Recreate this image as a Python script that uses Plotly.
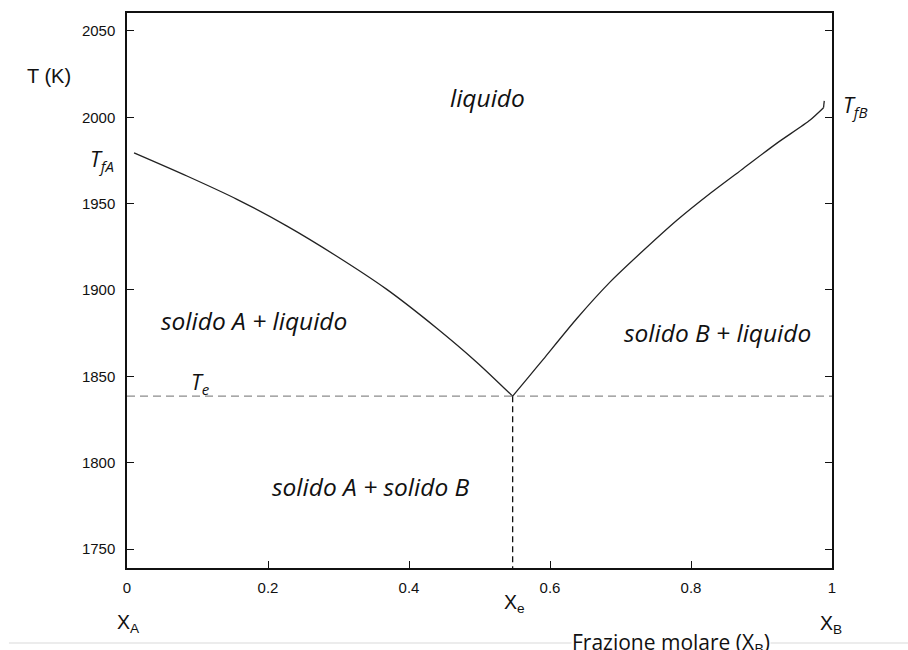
import plotly.graph_objects as go

# Liquidus of A (left branch)
xA = [0.010, 0.085, 0.156, 0.227, 0.297, 0.368, 0.439, 0.496, 0.547]
TA = [1979.4, 1966.0, 1952.5, 1937.0, 1919.7, 1900.5, 1878.0, 1858.2, 1838.5]
# Liquidus of B (right branch)
xB = [0.547, 0.5695, 0.5907, 0.6381, 0.6854, 0.7327, 0.780, 0.827, 0.8742, 0.9215, 0.969, 0.988]
TB = [1838.5, 1849.5, 1860.0, 1883.5, 1904.7, 1923.0, 1940.4, 1955.9, 1970.4, 1984.9, 1998.4, 2005.5]
# small end hook at T_fB
x_hook = [0.988, 0.989]
T_hook = [2005.5, 2009.5]

x_e = 0.547
T_e = 1838.5
T_min, T_max = 1739.0, 2060.4

x_ticks = [0, 0.2, 0.4, 0.6, 0.8, 1]
x_ticklabels = ["0", "0.2", "0.4", "0.6", "0.8", "1"]
y_ticks = [1750, 1800, 1850, 1900, 1950, 2000, 2050]

W, H = 908, 650
L, R, T, B = 127, 76.3, 13, 82
pw, ph = W - L - R, H - T - B


def px(xp):
    return (xp - L) / pw


def py(yp):
    return (H - B - yp) / ph


curve = dict(color="#222222", width=1.3)
fig = go.Figure()
fig.add_trace(go.Scatter(x=xA, y=TA, mode="lines", line=dict(curve, shape="spline", smoothing=0.8),
                         showlegend=False))
fig.add_trace(go.Scatter(x=xB, y=TB, mode="lines", line=dict(curve, shape="spline", smoothing=0.7),
                         showlegend=False))
fig.add_trace(go.Scatter(x=x_hook, y=T_hook, mode="lines", line=curve, showlegend=False))
fig.add_trace(go.Scatter(x=[0, 1], y=[T_e, T_e], mode="lines",
                         line=dict(color="#8c8c8c", width=1.2, dash="8px,5px"),
                         showlegend=False))
fig.add_trace(go.Scatter(x=[x_e, x_e], y=[T_e, T_min], mode="lines",
                         line=dict(color="#111111", width=1.3, dash="6px,4px"),
                         showlegend=False))

phase_font = dict(family="Open Sans", size=24.5, color="#111111")
ann = []


def add(text, xp, yp, font, **kw):
    d = dict(text=text, x=px(xp), y=py(yp), xref="paper", yref="paper",
             showarrow=False, font=font, xanchor="center", yanchor="middle")
    d.update(kw)
    ann.append(d)


add("<i>liquido</i>", 487, 97, phase_font)
add("<i>solido A + liquido</i>", 254, 320, phase_font)
add("<i>solido B + liquido</i>", 717, 332, phase_font)
add("<i>solido A + solido B</i>", 371, 487, phase_font)

sym_font = dict(family="Open Sans", size=21.5, color="#111111")
add("<i>T<sub>fA</sub></i>", 102, 160, sym_font)
add("<i>T<sub>fB</sub></i>", 855, 106, sym_font)
add("<i>T<sub>e</sub></i>", 200, 383, sym_font)

lab_font = dict(family="Liberation Sans", size=20, color="#111111")
add("T (K)", 49, 76, lab_font)
xf = dict(family="Liberation Sans", size=19.5, color="#111111")
add("X<sub>A</sub>", 128, 623, xf)
add("X<sub>e</sub>", 514, 603, xf)
add("X<sub>B</sub>", 831, 624, xf)
add("Frazione molare (X<sub>B</sub>)", 671, 643,
    dict(family="Open Sans", size=21, color="#111111"),
    bgcolor="white", borderpad=0)

fig.update_layout(
    width=W, height=H,
    margin=dict(l=L, r=R, t=T, b=B, pad=0),
    paper_bgcolor="white", plot_bgcolor="white",
    annotations=ann,
    shapes=[dict(type="line", xref="paper", yref="paper",
                 x0=px(9), x1=px(908), y0=py(643), y1=py(643),
                 line=dict(color="#d9d9d9", width=1), layer="below")],
)
fig.update_xaxes(range=[0, 1], tickvals=x_ticks, ticktext=x_ticklabels,
                 ticks="inside", ticklen=7, tickwidth=1, tickcolor="#111111",
                 showline=True, linecolor="#111111", linewidth=1.5, mirror=True,
                 showgrid=False, zeroline=False, ticklabelstandoff=5,
                 tickfont=dict(family="Liberation Sans", size=15, color="#111111"))
fig.update_yaxes(range=[T_min, T_max], tickvals=y_ticks,
                 ticks="inside", ticklen=7, tickwidth=1, tickcolor="#111111",
                 showline=True, linecolor="#111111", linewidth=1.5, mirror="ticks",
                 showgrid=False, zeroline=False, ticklabelstandoff=7,
                 tickfont=dict(family="Liberation Sans", size=15, color="#111111"))

fig.write_html("out.html")
